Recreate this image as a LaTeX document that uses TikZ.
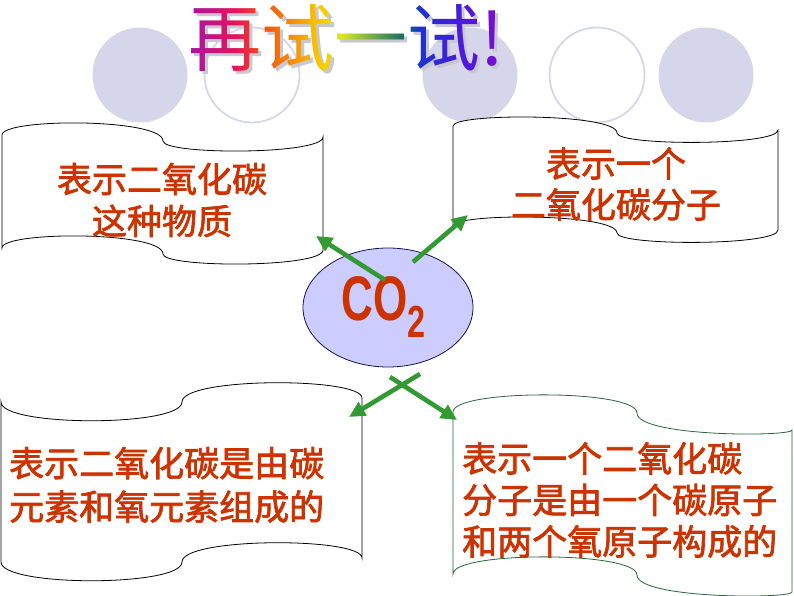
\documentclass[tikz,border=0pt]{standalone}
\usepackage{fontspec}
\newfontfamily\cjk{Noto Sans CJK SC}
\newfontfamily\cjkm[FakeBold=2]{Noto Sans CJK SC}
\newfontfamily\lsans{Liberation Sans}
\usetikzlibrary{arrows.meta,shapes.geometric,fadings}
\definecolor{bgc}{RGB}{214,214,234}
\definecolor{txt}{RGB}{204,51,0}
\definecolor{arr}{RGB}{51,153,51}
\definecolor{ellf}{RGB}{204,204,255}
\definecolor{elld}{RGB}{20,20,80}
\definecolor{brd}{RGB}{40,100,60}
\definecolor{shd}{RGB}{200,200,210}
\definecolor{ra}{RGB}{160,20,170}
\definecolor{rb}{RGB}{230,20,90}
\definecolor{rc}{RGB}{240,80,20}
\definecolor{rd}{RGB}{250,200,0}
\definecolor{re}{RGB}{215,230,40}
\definecolor{rf}{RGB}{20,110,100}
\definecolor{rg}{RGB}{30,50,210}
\definecolor{rh}{RGB}{90,20,220}
\definecolor{ri}{RGB}{140,10,200}
\pgfdeclarehorizontalshading{rainbowx}{100bp}{color(0bp)=(ra); color(25bp)=(ra); color(32.85bp)=(rb); color(36.95bp)=(rc); color(45.9bp)=(rd); color(49.2bp)=(re); color(59bp)=(rf); color(61.45bp)=(rg); color(70.4bp)=(rh); color(75bp)=(ri); color(100bp)=(ri)}
\begin{tikzfadingfrompicture}[name=titlefade]
\node[text=transparent!0, inner sep=0pt, font=\cjk\fontsize{73}{73}\selectfont] {再试一试!};
\end{tikzfadingfrompicture}
\tikzset{
  bgdisk/.style={circle, minimum size=95pt, inner sep=0pt, fill=bgc},
  bgring/.style={circle, minimum size=95pt, inner sep=0pt, draw=bgc, line width=1.8pt},
  boxline/.style={draw=black, fill=white, line width=0.8pt},
  boxtext/.style={text=txt, inner sep=0pt, font=\cjkm\fontsize{35}{42}\selectfont},
  arrowg/.style={draw=arr, line width=4.6pt, -{Triangle[length=16pt,width=15pt]}},
}
\begin{document}
\begin{tikzpicture}[x=1pt,y=-1pt]
\useasboundingbox (0,0) rectangle (794,596);
% background circles
\node[bgdisk] (c1) at (140,75) {};
\node[bgring] (c2) at (252,75) {};
\node[bgdisk] (c3) at (470,75) {};
\node[bgring] (c4) at (597,75) {};
\node[bgdisk] (c5) at (706,75) {};
% title
\node[text=shd, inner sep=0pt, font=\cjk\fontsize{73}{73}\selectfont] (titleshadow) at (349,41) {再试一试!};
\shade[shading=rainbowx, path fading=titlefade, fit fading=false, fading transform={shift={(346,38)}}] (186,0) rectangle (506,80);
% wave boxes
\draw[boxline] (2,135) .. controls (2,118) and (163,118) .. (163,141) .. controls (163,155) and (323,155) .. (323,137) -- (323,250) .. controls (323,268) and (163,268) .. (163,254) .. controls (163,231) and (2,231) .. (2,248) -- cycle;
\draw[boxline] (453,126) .. controls (453,113) and (617,113) .. (617,133) .. controls (617,146) and (778,146) .. (778,130) -- (778,230) .. controls (778,246) and (617,246) .. (617,233) .. controls (617,213) and (453,213) .. (453,226) -- cycle;
\draw[boxline] (1,402) .. controls (1,427) and (182,427) .. (182,402) .. controls (182,377) and (362,377) .. (362,398) -- (362,558) .. controls (362,537) and (182,537) .. (182,562) .. controls (182,587) and (1,587) .. (1,562) -- cycle;
\draw[boxline, draw=brd] (453,412) .. controls (453,389) and (637,389) .. (637,413) .. controls (637,437) and (792,437) .. (792,430) -- (792,592) .. controls (792,599) and (637,599) .. (637,575) .. controls (637,551) and (453,551) .. (453,574) -- cycle;
% box texts
\node[boxtext, align=center] (t1) at (162,200) {表示二氧化碳\\这种物质};
\node[boxtext, align=center, font=\cjkm\fontsize{35}{41}\selectfont] (t2) at (616,184) {表示一个\\二氧化碳分子};
\node[boxtext, align=left, anchor=west, font=\cjkm\fontsize{35}{43.5}\selectfont] (t3) at (9,485) {表示二氧化碳是由碳\\元素和氧元素组成的};
\node[boxtext, align=left, anchor=west, font=\cjkm\fontsize{35}{41.5}\selectfont] (t4) at (462,500) {表示一个二氧化碳\\分子是由一个碳原子\\和两个氧原子构成的};
% central ellipse
\node[ellipse, minimum width=170pt, minimum height=119pt, inner sep=0pt, fill=ellf, draw=elld, line width=0.8pt] (co2) at (388,307.5) {};
\node[text=txt, inner sep=0pt, anchor=base west, font=\lsans\bfseries\fontsize{63}{63}\selectfont] (cotext) at (341,320) {\scalebox{0.7}[1]{CO}};
\node[text=txt, inner sep=0pt, anchor=base west, font=\lsans\bfseries\fontsize{45}{45}\selectfont] (sub) at (407,337) {\scalebox{0.72}[1]{2}};
% arrows
\coordinate (s1) at (385,280);
\coordinate (e1) at (316,236);
\coordinate (s2) at (413,262);
\coordinate (e2) at (468,215);
\coordinate (s3) at (420,374);
\coordinate (e3) at (349,417);
\coordinate (s4) at (390,377);
\coordinate (e4) at (457,420);
\draw[arrowg] (s1) -- (e1);
\draw[arrowg] (s2) -- (e2);
\draw[arrowg] (s3) -- (e3);
\draw[arrowg] (s4) -- (e4);
\end{tikzpicture}
\end{document}
